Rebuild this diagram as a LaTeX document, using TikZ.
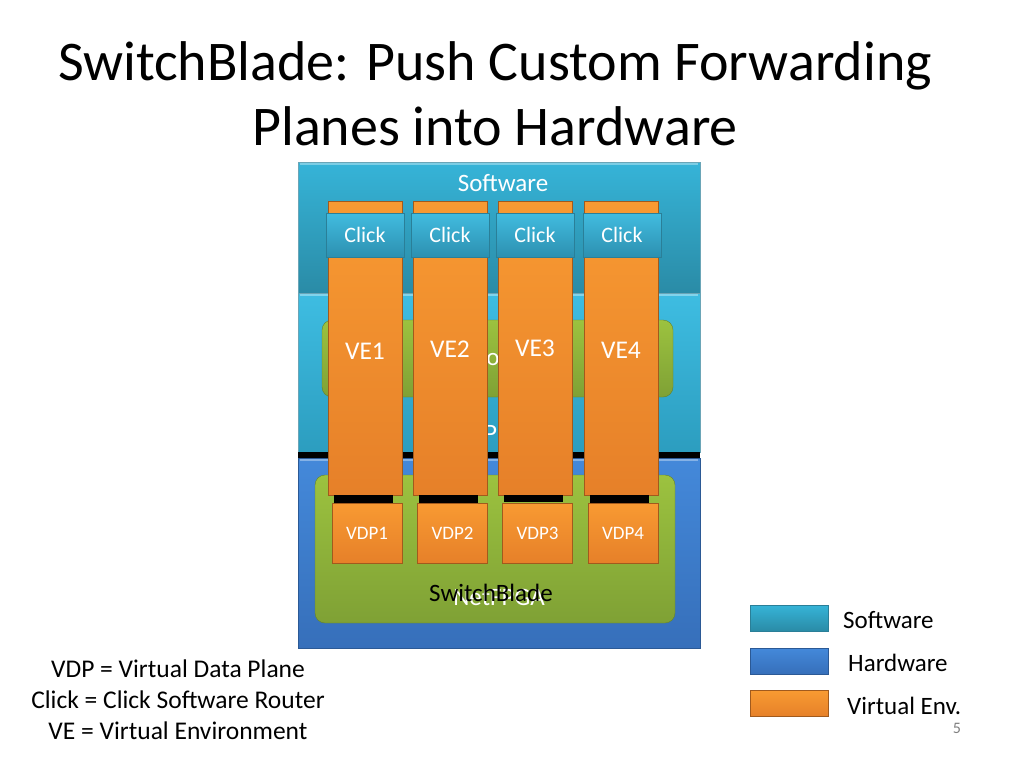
\documentclass[tikz,border=0pt]{standalone}
\usepackage{fontspec}
\setmainfont{Carlito}
\definecolor{swA}{HTML}{36B4D8}
\definecolor{swB}{HTML}{2A8BA6}
\definecolor{mdA}{HTML}{3EBDE2}
\definecolor{mdB}{HTML}{2C9DBF}
\definecolor{hwA}{HTML}{4489DA}
\definecolor{hwB}{HTML}{366FBA}
\definecolor{grA}{HTML}{9CC23F}
\definecolor{grB}{HTML}{7FA135}
\definecolor{orA}{HTML}{F89A32}
\definecolor{orB}{HTML}{E68029}
\definecolor{ckA}{HTML}{42BCE0}
\definecolor{ckB}{HTML}{2C90B0}
\definecolor{edgeC}{HTML}{2A7F98}
\tikzset{
  blk/.style={draw=edgeC!70, line width=0.6pt, inner sep=0pt},
  swblk/.style={blk, top color=swA, bottom color=swB},
  mdblk/.style={blk, top color=mdA, bottom color=mdB},
  hwblk/.style={blk, draw=hwB!80!black, top color=hwA, bottom color=hwB},
  grblk/.style={inner sep=0pt, rounded corners=10pt, top color=grA, bottom color=grB, draw=grB!80!black, line width=0.4pt},
  vebox/.style={inner sep=0pt, top color=orA, bottom color=orB, draw=orB!70!black, line width=0.5pt, minimum width=74pt},
  velab/.style={inner sep=0pt, text=white, font=\fontsize{25.5}{29}\selectfont},
  clickbox/.style={inner sep=0pt, top color=ckA, bottom color=ckB, draw=edgeC, line width=0.5pt, minimum width=78pt, minimum height=44pt, text=white, font=\fontsize{22}{26}\selectfont},
  vdpbox/.style={inner sep=0pt, top color=orA, bottom color=orB, draw=orB!70!black, line width=0.5pt, minimum width=70pt, minimum height=60pt, text=white, font=\fontsize{19}{23}\selectfont},
  blackstrip/.style={fill=black, draw=none, inner sep=0pt},
  bevel/.style={line width=2pt, white, opacity=0.35},
  legbar/.style={inner sep=0pt, minimum width=78pt, minimum height=26pt, line width=0.5pt},
  txt/.style={inner sep=0pt, font=\fontsize{25}{31}\selectfont},
}
\begin{document}
\begin{tikzpicture}[x=1pt,y=-1pt]
\path[use as bounding box, fill=white] (0,0) rectangle (1024,768);

% title
\node[txt, font=\fontsize{56}{65}\selectfont, anchor=base] (t1) at (495,80) {SwitchBlade: Push Custom Forwarding};
\node[txt, font=\fontsize{56}{65}\selectfont, anchor=base] (t2) at (495,145) {Planes into Hardware};

% software top block
\node[swblk, minimum width=402pt, minimum height=131pt] (sw) at (499,227.5) {};
\draw[bevel] ([xshift=2pt,yshift=-2pt]sw.north west) -- ([xshift=-2pt,yshift=-2pt]sw.north east);
\node[txt, text=white, anchor=base] (swlab) at (503,191) {Software};
% middle block
\node[mdblk, minimum width=402pt, minimum height=159pt] (md) at (499,372.5) {};
\draw[bevel] ([xshift=2pt,yshift=-2pt]md.north west) -- ([xshift=-2pt,yshift=-2pt]md.north east);
\node[grblk, minimum width=351pt, minimum height=77pt] (gmd) at (497.5,358.5) {};
\node[txt, text=white] (hid1) at (493,360) {o};
\node[txt, text=white, anchor=west] (hid2) at (484,434) {P(};
% black strip
\node[blackstrip, minimum width=402pt, minimum height=6pt] (bs) at (499,455) {};
% hardware block
\node[hwblk, minimum width=402pt, minimum height=190pt] (hw) at (499,553) {};
\draw[bevel] ([xshift=2pt,yshift=-2pt]hw.north west) -- ([xshift=-2pt,yshift=-2pt]hw.north east);
\node[grblk, minimum width=360pt, minimum height=148pt] (ghw) at (495,549) {};
\node[txt, text=white] (netf) at (499,597) {NetFPGA};
\node[txt, text=black] (sblab) at (491,593) {SwitchBlade};

% VE boxes
\foreach \i/\x in {1/365, 2/450, 3/535, 4/621}{
  \node[vebox, minimum height=294pt, anchor=north] (ve\i) at (\x,201) {};
}
\node[velab] (ve1lab) at (365,351) {VE1};
\node[velab] (ve2lab) at (450,349) {VE2};
\node[velab] (ve3lab) at (535,348) {VE3};
\node[velab] (ve4lab) at (621,350) {VE4};

% click boxes
\node[clickbox] (c1) at (365,235) {Click};
\node[clickbox] (c2) at (450,235) {Click};
\node[clickbox] (c3) at (535,235) {Click};
\node[clickbox] (c4) at (622,235) {Click};

% black strips under VEs
\node[blackstrip, minimum width=59pt, minimum height=8pt, anchor=north] (k1) at (363,495) {};
\node[blackstrip, minimum width=59pt, minimum height=8pt, anchor=north] (k2) at (448,495) {};
\node[blackstrip, minimum width=59pt, minimum height=7pt, anchor=north] (k3) at (533,495) {};
\node[blackstrip, minimum width=59pt, minimum height=8pt, anchor=north] (k4) at (619,495) {};

% VDP boxes
\node[vdpbox] (v1) at (367,533) {VDP1};
\node[vdpbox] (v2) at (452.5,533) {VDP2};
\node[vdpbox] (v3) at (537.5,533) {VDP3};
\node[vdpbox] (v4) at (623,533) {VDP4};

% legend
\node[legbar, top color=swA, bottom color=swB, draw=edgeC] (lg1) at (789,618) {};
\node[legbar, top color=hwA, bottom color=hwB, draw=hwB!80!black] (lg2) at (789,661) {};
\node[legbar, top color=orA, bottom color=orB, draw=orB!70!black] (lg3) at (789,703.5) {};
\node[txt, anchor=west] (lt1) at (843,620) {Software};
\node[txt, anchor=west] (lt2) at (848,663) {Hardware};
\node[txt, anchor=west] (lt3) at (847,706) {Virtual Env.};
\node[txt, text=gray, font=\fontsize{16}{19}\selectfont] (pg) at (957,728) {5};

% bottom-left definitions
\node[txt, font=\fontsize{25.5}{31}\selectfont, anchor=base] (d1) at (178,677) {VDP = Virtual Data Plane};
\node[txt, font=\fontsize{25.5}{31}\selectfont, anchor=base] (d2) at (178,708) {Click = Click Software Router};
\node[txt, font=\fontsize{25.5}{31}\selectfont, anchor=base] (d3) at (178,739) {VE = Virtual Environment};
\end{tikzpicture}
\end{document}
